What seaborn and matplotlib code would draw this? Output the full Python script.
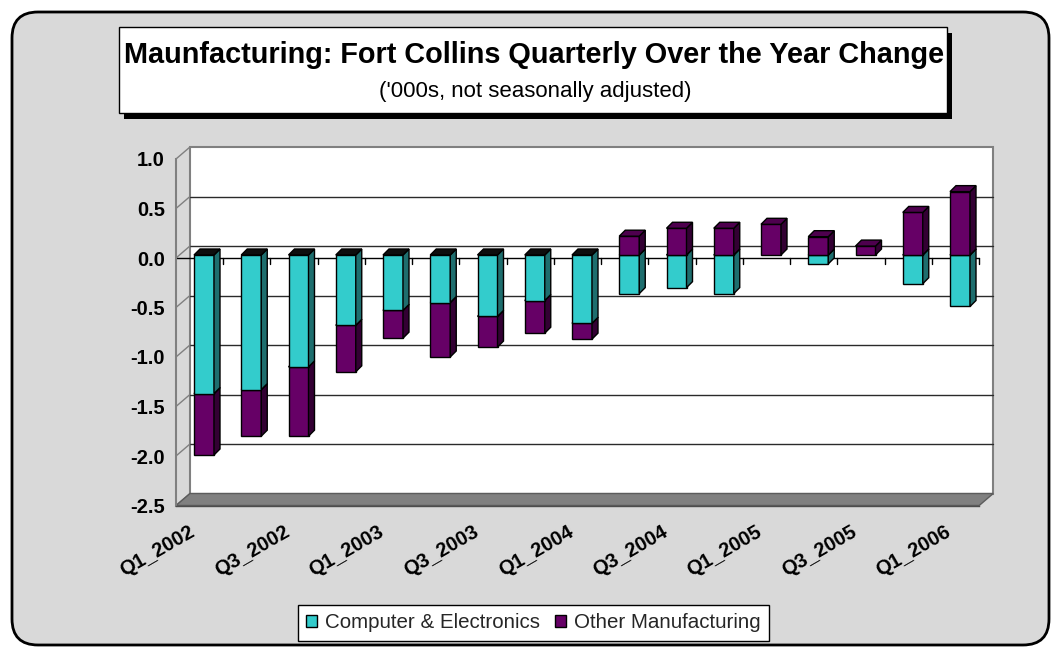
import numpy as np
import matplotlib
matplotlib.use("Agg")
import matplotlib.pyplot as plt
from matplotlib.patches import Rectangle, Polygon, FancyBboxPatch, Patch
import seaborn as sns

# ---------------------------------------------------------------- data
QUARTERS = [
    "Q1_2002", "Q2_2002", "Q3_2002", "Q4_2002",
    "Q1_2003", "Q2_2003", "Q3_2003", "Q4_2003",
    "Q1_2004", "Q2_2004", "Q3_2004", "Q4_2004",
    "Q1_2005", "Q2_2005", "Q3_2005", "Q4_2005",
    "Q1_2006",
]
COMPUTER = [-1.40, -1.36, -1.13, -0.71, -0.56, -0.48, -0.62, -0.46, -0.69,
            -0.39, -0.33, -0.39, 0.00, -0.09, 0.00, -0.29, -0.52]
OTHER = [-0.62, -0.47, -0.70, -0.47, -0.28, -0.55, -0.31, -0.33, -0.16,
         0.19, 0.27, 0.27, 0.31, 0.185, 0.09, 0.43, 0.64]
SERIES_NAMES = ["Computer & Electronics", "Other Manufacturing"]
Y_TICKS = [1.0, 0.5, 0.0, -0.5, -1.0, -1.5, -2.0, -2.5]
TITLE = "Maunfacturing: Fort Collins Quarterly Over the Year Change"
SUBTITLE = "('000s, not seasonally adjusted)"

# ---------------------------------------------------------------- style
FACE = ["#33CCCC", "#660066"]
SIDE = ["#1E6E6E", "#330033"]
TOP_POS = ["#279E9E", "#4E004E"]
TOP_NEG = "#0E0E0E"
BG = "#D9D9D9"

sns.set_style("white")
plt.rcParams["font.family"] = ["Liberation Sans", "DejaVu Sans"]

W, H = 1052, 648
fig = plt.figure(figsize=(W / 100, H / 100), dpi=100)
fig.patch.set_facecolor("white")

# canvas in pixel units (y grows downward) for frame and title box
bg = fig.add_axes([0, 0, 1, 1])
bg.set_xlim(0, W)
bg.set_ylim(H, 0)
bg.axis("off")
bg.add_patch(FancyBboxPatch((12, 12), 1037, 633,
                            boxstyle="round,pad=0,rounding_size=26",
                            fc=BG, ec="black", lw=2))
bg.add_patch(Rectangle((124, 33), 828, 86, fc="black", ec="none"))
bg.add_patch(Rectangle((119, 27), 828, 86, fc="white", ec="black", lw=1))
bg.text(534, 63, TITLE, ha="center", va="baseline",
        fontsize=20.8, fontweight="bold", color="black")
bg.text(535, 97, SUBTITLE, ha="center", va="baseline",
        fontsize=16, color="black")

# ---------------------------------------------------------------- plot area
# pixel geometry of the bar plane: category spacing and value scale
CX0, CW, ZY, U = 204.0, 47.25, 255.0, 99.0
L, R, T, B = 140, 1010, 130, 525
ax = fig.add_axes([L / W, 1 - B / H, (R - L) / W, (B - T) / H])
ax.set_facecolor("none")

# depth offsets (data units) of the front plane, back wall and bar depth
FDX, FDY = -4.4 / CW, -3.0 / U
BDX, BDY = 9.6 / CW, 9.0 / U
DDX, DDY = 6.0 / CW, 6.0 / U
BAR_W = 20.0 / CW

n = len(QUARTERS)
comp = np.array(COMPUTER)
oth = np.array(OTHER)
other_bottom = np.where(np.sign(oth) == np.sign(comp), comp, 0.0)

sns.barplot(x=QUARTERS, y=COMPUTER, color=FACE[0], saturation=1,
            width=BAR_W, errorbar=None, edgecolor="black", linewidth=1,
            ax=ax)
sns.barplot(x=QUARTERS, y=OTHER, bottom=other_bottom, color=FACE[1],
            saturation=1, width=BAR_W, errorbar=None, edgecolor="black",
            linewidth=1, ax=ax)

ax.set_xlim((L - CX0) / CW, (R - CX0) / CW)
ax.set_ylim((ZY - B) / U, (ZY - T) / U)

ymin, ymax = min(Y_TICKS), max(Y_TICKS)
xf0, xf1 = -0.5 + FDX, n - 0.5 + FDX
xb0, xb1 = -0.5 + BDX, n - 0.5 + BDX

# back wall with gridlines
ax.add_patch(Rectangle((xb0, ymin + BDY), xb1 - xb0, ymax - ymin,
                       fc="white", ec="#808080", lw=1.5, zorder=0.5))
for v in Y_TICKS:
    if ymin < v < ymax:
        ax.plot([xb0, xb1], [v + BDY, v + BDY], color="#2a2a2a", lw=1,
                zorder=0.8)
    # connectors across the left side wall
    ax.plot([xf0, xb0], [v + FDY, v + BDY], color="#808080", lw=1,
            zorder=0.8)

# floor
ax.add_patch(Polygon([(xf0, ymin + FDY), (xf1, ymin + FDY),
                      (xb1, ymin + BDY), (xb0, ymin + BDY)],
                     closed=True, fc="#808080", ec="#5c5c5c", lw=1,
                     zorder=1))

# category line at zero with tick marks
ax.plot([xf0, xf1], [FDY, FDY], color="black", lw=1, zorder=2)
for k in range(1, n + 1):
    xt = k - 0.5 + FDX
    ax.plot([xt, xt], [FDY, FDY - 6.0 / U], color="black", lw=1, zorder=2)

# side and top faces of every bar segment
for ci, cont in enumerate(ax.containers[:2]):
    for rect in cont:
        x, y = rect.get_x(), rect.get_y()
        w, h = rect.get_width(), rect.get_height()
        if abs(h) < 1e-9:
            rect.set_visible(False)
            continue
        y0, y1 = min(y, y + h), max(y, y + h)
        z = 3 + 0.1 * (y0 + 3)
        rect.set_zorder(z)
        side = Polygon([(x + w, y0), (x + w + DDX, y0 + DDY),
                        (x + w + DDX, y1 + DDY), (x + w, y1)],
                       closed=True, fc=SIDE[ci], ec="black", lw=1, zorder=z)
        top_c = TOP_NEG if h < 0 else TOP_POS[ci]
        top = Polygon([(x, y1), (x + DDX, y1 + DDY),
                       (x + w + DDX, y1 + DDY), (x + w, y1)],
                      closed=True, fc=top_c, ec="black", lw=1, zorder=z)
        ax.add_patch(side)
        ax.add_patch(top)

# axes: value axis on the front-left edge, category axis on the floor edge
ax.spines[["top", "right"]].set_visible(False)
ax.spines["left"].set_position(("data", xf0))
ax.spines["left"].set_bounds(ymin + FDY, ymax + FDY)
ax.spines["left"].set_color("#808080")
ax.spines["left"].set_linewidth(1.5)
ax.spines["bottom"].set_position(("data", ymin + FDY))
ax.spines["bottom"].set_bounds(xf0, xf1)
ax.spines["bottom"].set_color("#4d4d4d")
ax.spines["bottom"].set_linewidth(1)

ax.set_yticks([v + FDY for v in Y_TICKS], labels=[f"{v:.1f}" for v in Y_TICKS])
ax.tick_params(axis="y", length=6, width=1, color="#808080",
               labelsize=14.5, pad=2, labelcolor="black")
for lbl in ax.get_yticklabels():
    lbl.set_fontweight("bold")

ax.set_xticks([i + FDX - 6.0 / CW for i in range(n)],
              labels=[q if i % 2 == 0 else "" for i, q in enumerate(QUARTERS)])
ax.set_xticks([k - 0.5 + FDX for k in range(n + 1)], minor=True)
ax.tick_params(axis="x", which="major", length=0, pad=18, labelsize=14.5,
               labelcolor="black")
ax.tick_params(axis="x", which="minor", length=6, width=1, color="black")
for lbl in ax.get_xticklabels():
    lbl.set_rotation(30)
    lbl.set_ha("right")
    lbl.set_va("center")
    lbl.set_rotation_mode("anchor")
    lbl.set_fontweight("bold")
ax.set_xlabel("")
ax.set_ylabel("")

# legend
handles = [Patch(fc=FACE[0], ec="black", lw=1),
           Patch(fc=FACE[1], ec="black", lw=1)]
leg = fig.legend(handles, SERIES_NAMES, loc="center",
                 bbox_to_anchor=(533.5 / W, 1 - 623 / H), ncol=2,
                 frameon=True, fancybox=False, edgecolor="black",
                 framealpha=1, fontsize=14.8, handlelength=0.55,
                 handleheight=0.55, handletextpad=0.4, columnspacing=0.7,
                 borderpad=0.4)
leg.get_frame().set_linewidth(1)

fig.savefig("out.png", dpi=100, facecolor=fig.get_facecolor())
